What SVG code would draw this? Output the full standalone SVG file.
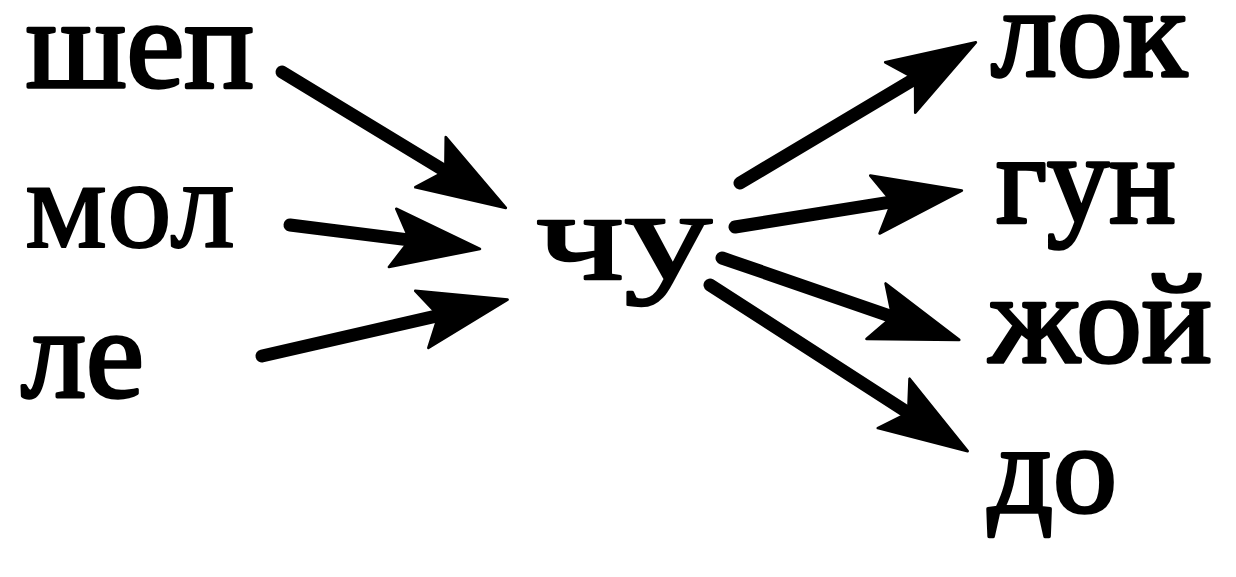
<svg xmlns="http://www.w3.org/2000/svg" width="1236" height="577" viewBox="0 0 1236 577">
<style>
text{font-family:"Liberation Serif","Times New Roman",serif;font-size:128px;font-weight:normal;fill:#000;stroke:#000;stroke-linejoin:round}
.b{stroke-width:3.5}
.r{stroke-width:2}
.m{stroke-width:2.5}
.c line{stroke:#000;stroke-width:13;stroke-linecap:round;marker-end:url(#ah)}
</style>
<defs>
<marker id="ah" markerUnits="userSpaceOnUse" orient="auto" refX="0" refY="0" markerWidth="120" markerHeight="80" viewBox="-30 -30 90 60" overflow="visible">
<path d="M45,0 L-21,-22 L-8,0 L-21,22 Z" fill="#000" stroke="#000" stroke-width="2" stroke-linejoin="round"/>
</marker>
</defs>
<rect width="1236" height="577" fill="#fff"/>
<g id="n-shep"><text class="b" x="26" y="87" textLength="228" lengthAdjust="spacingAndGlyphs">шеп</text></g>
<g id="n-mol"><text class="r" x="25" y="247" textLength="210" lengthAdjust="spacingAndGlyphs">мол</text></g>
<g id="n-le"><text class="b" x="21" y="397" textLength="123" lengthAdjust="spacingAndGlyphs">ле</text></g>
<g id="n-chu"><text class="m" x="536" y="279" textLength="176" lengthAdjust="spacingAndGlyphs">чу</text></g>
<g id="n-lok"><text class="b" x="991" y="76" textLength="196" lengthAdjust="spacingAndGlyphs">лок</text></g>
<g id="n-gun"><text class="b" x="996" y="222" textLength="180" lengthAdjust="spacingAndGlyphs">гун</text></g>
<g id="n-zhoy"><text class="b" x="989" y="362" textLength="223" lengthAdjust="spacingAndGlyphs">жой</text></g>
<g id="n-do"><text class="b" x="988" y="512" textLength="129" lengthAdjust="spacingAndGlyphs">до</text></g>
<g id="connectors" class="c">
<line x1="282" y1="72" x2="454.5" y2="176.7"/>
<line x1="290" y1="225" x2="420.4" y2="241.4"/>
<line x1="262" y1="356" x2="449.1" y2="313.1"/>
<line x1="740" y1="183" x2="924.3" y2="73.1"/>
<line x1="735" y1="227" x2="902.6" y2="200.1"/>
<line x1="722" y1="258" x2="902.5" y2="320.3"/>
<line x1="710" y1="285" x2="917.2" y2="418.6"/>
</g>
</svg>
